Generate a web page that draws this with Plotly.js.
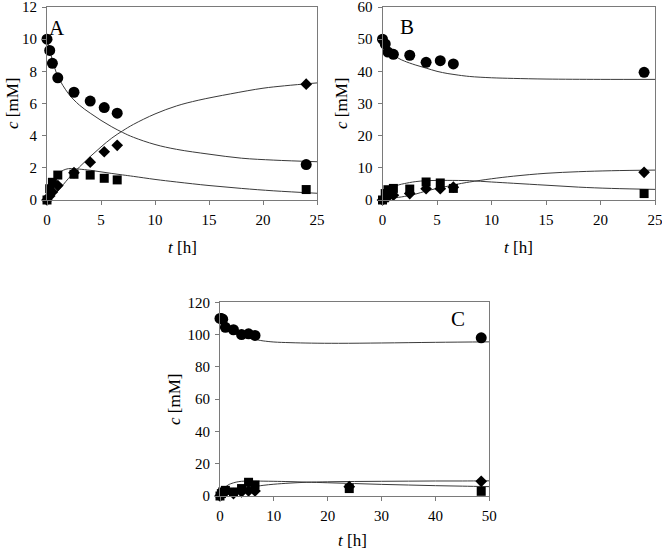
<!DOCTYPE html>
<html>
<head>
<meta charset="utf-8">
<script src="https://cdn.plot.ly/plotly-3.0.1.min.js"></script>
<style>html,body{margin:0;padding:0;background:#fff;}#chart{width:662px;height:550px;}</style>
</head>
<body>
<div id="chart"></div>
<script>
// ---------- Panel A (measured) ----------
const tA = [0, 0.25, 0.5, 1, 2.5, 4, 5.3, 6.5, 24];
const circA = [10, 9.3, 8.5, 7.6, 6.7, 6.15, 5.75, 5.4, 2.2];
const sqA = [0, 0.7, 1.1, 1.55, 1.6, 1.55, 1.35, 1.25, 0.65];
const diaA = [0, 0.25, 0.5, 0.9, 1.7, 2.35, 3.0, 3.4, 7.2];
// Panel A (model curves)
const fitCircA_t = [0, 0.25, 0.5, 1, 2, 3, 4, 5, 6, 7, 8, 10, 12, 15, 18, 21, 25];
const fitCircA = [10, 9.3, 8.7, 7.7, 6.6, 5.9, 5.4, 4.95, 4.55, 4.2, 3.9, 3.45, 3.15, 2.85, 2.6, 2.48, 2.38];
const fitSqA_t = [0, 0.25, 0.5, 0.75, 1, 1.5, 2, 2.5, 3, 4, 5, 6, 7, 8, 10, 12, 15, 18, 21, 25];
const fitSqA = [0, 0.7, 1.1, 1.4, 1.6, 1.85, 1.95, 1.95, 1.92, 1.85, 1.75, 1.65, 1.56, 1.47, 1.28, 1.12, 0.9, 0.72, 0.57, 0.42];
const fitDiaA_t = [0, 0.5, 1, 1.5, 2, 3, 4, 5, 6, 7, 8, 10, 12, 14, 17, 20, 22, 25];
const fitDiaA = [0, 0.2, 0.55, 0.95, 1.35, 2.05, 2.7, 3.3, 3.85, 4.3, 4.7, 5.35, 5.85, 6.2, 6.6, 6.95, 7.1, 7.28];

// ---------- Panel B (measured) ----------
const tB = [0, 0.25, 0.5, 1, 2.5, 4, 5.3, 6.5, 24];
const circB = [50, 48.5, 46, 45.3, 45, 42.8, 43.3, 42.3, 39.7];
const sqB = [0, 2, 3.2, 3.6, 3.4, 5.6, 5.3, 3.6, 2.0];
const diaB = [0, 0.6, 1.0, 1.5, 2.0, 3.5, 3.5, 4.0, 8.6];
// Panel B (model curves)
const fitCircB_t = [0, 0.25, 0.5, 1, 1.5, 2, 3, 4, 5, 6, 7, 8, 10, 12, 15, 20, 25];
const fitCircB = [50, 48.6, 47.4, 45.3, 44.0, 43.2, 42.0, 41.0, 40.0, 39.3, 38.8, 38.4, 38.0, 37.8, 37.6, 37.5, 37.5];
const fitSqB_t = [0, 0.25, 0.5, 1, 1.5, 2, 3, 4, 5, 6, 8, 10, 12, 15, 18, 21, 25];
const fitSqB = [0, 1.5, 2.6, 4.0, 4.7, 5.1, 5.7, 6.0, 6.1, 6.1, 6.0, 5.6, 5.2, 4.6, 4.0, 3.6, 3.3];
const fitDiaB_t = [0, 0.5, 1, 2, 3, 4, 5, 6, 7, 8, 10, 12, 15, 18, 21, 25];
const fitDiaB = [0, 0.3, 0.6, 1.1, 1.8, 2.8, 3.6, 4.3, 5.0, 5.6, 6.6, 7.4, 8.3, 8.8, 9.1, 9.3];

// ---------- Panel C (measured) ----------
const tCcirc = [0, 0.25, 0.5, 1, 2.5, 4, 5.3, 6.5, 48.5];
const circC = [110, 110, 109.5, 104.5, 103, 100, 100.5, 99.5, 98];
const tC = [0, 0.25, 0.5, 1, 2.5, 4, 5.3, 6.5, 24, 48.5];
const sqC = [0, 1.5, 2.5, 3.5, 2.5, 4.6, 8.5, 6.8, 4.6, 2.9];
const diaC = [0, 0.8, 1.5, 2.5, 1.5, 2.6, 3.2, 3.1, 5.8, 9.1];
// Panel C (model curves)
const fitCircC_t = [0, 1, 2, 3, 4, 5, 6, 7, 8, 10, 13, 17, 22, 30, 40, 50];
const fitCircC = [110, 106.5, 104, 102, 100, 98.6, 97.5, 96.7, 96.1, 95.4, 95.0, 94.7, 94.6, 94.8, 95.2, 95.5];
const fitSqC_t = [0, 0.5, 1, 1.5, 2, 3, 4, 5, 6, 8, 10, 13, 16, 20, 25, 30, 35, 40, 45, 50];
const fitSqC = [0, 3.5, 5.5, 6.8, 7.6, 8.6, 9.1, 9.3, 9.3, 9.2, 9.1, 8.9, 8.6, 8.2, 7.7, 7.2, 6.8, 6.4, 6.1, 5.8];
const fitDiaC_t = [0, 1, 2, 3, 4, 5, 6, 8, 10, 13, 16, 20, 25, 30, 35, 40, 45, 50];
const fitDiaC = [0, 1.2, 2.4, 3.4, 4.3, 5.0, 5.6, 6.6, 7.3, 8.0, 8.5, 8.8, 9.0, 9.1, 9.2, 9.3, 9.3, 9.4];

// ---------- Axis tick settings ----------
const xTicksAB = [0, 5, 10, 15, 20, 25];
const yTicksA = [0, 2, 4, 6, 8, 10, 12];
const yTicksB = [0, 10, 20, 30, 40, 50, 60];
const xTicksC = [0, 10, 20, 30, 40, 50];
const yTicksC = [0, 20, 40, 60, 80, 100, 120];

const FONT = 'Liberation Serif, Times New Roman, serif';
const lineStyle = {color: '#3a3a3a', width: 1, shape: 'spline', smoothing: 1};
const mk = (sym, size) => ({symbol: sym, size: size, color: '#000', line: {width: 0}});

function panel(xa, ya, tc, circ, ts, sq, td, dia, fits) {
  const out = [];
  fits.forEach(f => out.push({x: f[0], y: f[1], xaxis: xa, yaxis: ya, mode: 'lines', line: lineStyle, hoverinfo: 'skip'}));
  out.push({x: tc, y: circ, xaxis: xa, yaxis: ya, mode: 'markers', marker: mk('circle', 11), cliponaxis: false});
  out.push({x: ts, y: sq, xaxis: xa, yaxis: ya, mode: 'markers', marker: mk('square', 9), cliponaxis: false});
  out.push({x: td, y: dia, xaxis: xa, yaxis: ya, mode: 'markers', marker: mk('diamond', 9), cliponaxis: false});
  return out;
}

const data = [].concat(
  panel('x', 'y', tA, circA, tA, sqA, tA, diaA,
        [[fitCircA_t, fitCircA], [fitSqA_t, fitSqA], [fitDiaA_t, fitDiaA]]),
  panel('x2', 'y2', tB, circB, tB, sqB, tB, diaB,
        [[fitCircB_t, fitCircB], [fitSqB_t, fitSqB], [fitDiaB_t, fitDiaB]]),
  panel('x3', 'y3', tCcirc, circC, tC, sqC, tC, diaC,
        [[fitCircC_t, fitCircC], [fitSqC_t, fitSqC], [fitDiaC_t, fitDiaC]])
);

const W = 662, H = 550;
const axBase = {
  showgrid: false, zeroline: false, showline: true, linecolor: '#7a7a7a', linewidth: 1,
  mirror: true, ticks: 'outside', ticklen: 4, tickcolor: '#7a7a7a', tickwidth: 1,
  tickfont: {family: FONT, size: 15, color: '#000'},
  fixedrange: true, tickmode: 'array', ticklabeloverflow: 'allow'
};
function xax(l, r, range, ticks, anchor) {
  return Object.assign({}, axBase, {domain: [l / W, r / W], range: range, tickvals: ticks, ticktext: ticks.map(String), anchor: anchor, ticklabelstandoff: 2});
}
function yax(top, bot, range, ticks, anchor) {
  return Object.assign({}, axBase, {domain: [1 - bot / H, 1 - top / H], range: range, tickvals: ticks, ticktext: ticks.map(String), anchor: anchor, ticklabelstandoff: 2});
}

const tf = {family: FONT, size: 17, color: '#000'};
const pf = {family: FONT, size: 21, color: '#000'};
function ann(x, y, text, font, rot) {
  return {xref: 'paper', yref: 'paper', x: x / W, y: 1 - y / H, text: text, showarrow: false,
          font: font, textangle: rot || 0, xanchor: 'center', yanchor: 'middle'};
}

const layout = {
  width: W, height: H, margin: {l: 0, r: 0, t: 0, b: 0},
  paper_bgcolor: '#fff', plot_bgcolor: '#fff', showlegend: false,
  font: {family: FONT, size: 15, color: '#000'},
  xaxis: xax(47, 317, [0, 25], xTicksAB, 'y'),
  yaxis: yax(7, 200, [0, 12], yTicksA, 'x'),
  xaxis2: xax(382.5, 655, [0, 25], xTicksAB, 'y2'),
  yaxis2: yax(7, 200, [0, 60], yTicksB, 'x2'),
  xaxis3: xax(220, 489.3, [0, 50], xTicksC, 'y3'),
  yaxis3: yax(302.3, 496, [0, 120], yTicksC, 'x3'),
  annotations: [
    ann(182, 247, '<i>t</i> [h]', tf),
    ann(518, 247, '<i>t</i> [h]', tf),
    ann(353, 540, '<i>t</i> [h]', tf),
    ann(12, 104, '<i>c</i> [mM]', tf, -90),
    ann(341, 104, '<i>c</i> [mM]', tf, -90),
    ann(174, 399, '<i>c</i> [mM]', tf, -90),
    ann(57, 28, 'A', pf),
    ann(407, 27, 'B', pf),
    ann(458, 319, 'C', pf)
  ]
};

Plotly.newPlot('chart', data, layout, {staticPlot: true, displayModeBar: false});
</script>
</body>
</html>
